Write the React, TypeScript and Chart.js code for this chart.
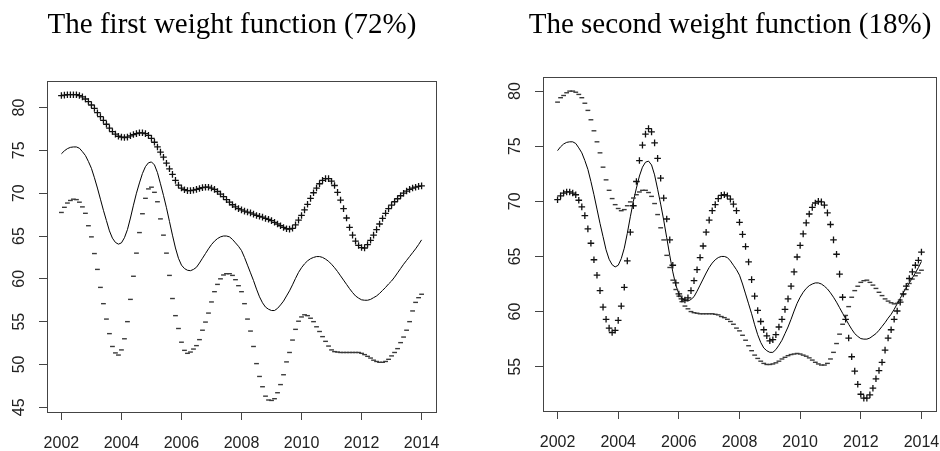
import { useEffect, useRef } from 'react';
import { Chart, registerables } from 'chart.js';

Chart.register(...registerables);

const years = [
  2002.0, 2002.1, 2002.2, 2002.3, 2002.4, 2002.5, 2002.6, 2002.7, 2002.8, 2002.9,
  2003.0, 2003.1, 2003.2, 2003.3, 2003.4, 2003.5, 2003.6, 2003.7, 2003.8, 2003.9,
  2004.0, 2004.1, 2004.2, 2004.3, 2004.4, 2004.5, 2004.6, 2004.7, 2004.8, 2004.9,
  2005.0, 2005.1, 2005.2, 2005.3, 2005.4, 2005.5, 2005.6, 2005.7, 2005.8, 2005.9,
  2006.0, 2006.1, 2006.2, 2006.3, 2006.4, 2006.5, 2006.6, 2006.7, 2006.8, 2006.9,
  2007.0, 2007.1, 2007.2, 2007.3, 2007.4, 2007.5, 2007.6, 2007.7, 2007.8, 2007.9,
  2008.0, 2008.1, 2008.2, 2008.3, 2008.4, 2008.5, 2008.6, 2008.7, 2008.8, 2008.9,
  2009.0, 2009.1, 2009.2, 2009.3, 2009.4, 2009.5, 2009.6, 2009.7, 2009.8, 2009.9,
  2010.0, 2010.1, 2010.2, 2010.3, 2010.4, 2010.5, 2010.6, 2010.7, 2010.8, 2010.9,
  2011.0, 2011.1, 2011.2, 2011.3, 2011.4, 2011.5, 2011.6, 2011.7, 2011.8, 2011.9,
  2012.0, 2012.1, 2012.2, 2012.3, 2012.4, 2012.5, 2012.6, 2012.7, 2012.8, 2012.9,
  2013.0, 2013.1, 2013.2, 2013.3, 2013.4, 2013.5, 2013.6, 2013.7, 2013.8, 2013.9,
  2014.0,
];

const meanCurve = [
  74.6, 74.95, 75.2, 75.35, 75.4, 75.4, 75.25, 74.85, 74.4, 73.7,
  72.9, 71.8, 70.6, 69.3, 68.0, 66.8, 65.6, 64.75, 64.25, 64.05,
  64.2, 64.8, 65.75, 67.1, 68.6, 70.0, 71.2, 72.3, 73.1, 73.55,
  73.65, 73.3, 72.4, 71.1, 69.75, 68.3, 66.7, 65.1, 63.6, 62.4,
  61.6, 61.2, 61.0, 60.95, 61.1, 61.35, 61.85, 62.4, 62.95, 63.5,
  64.0, 64.4, 64.7, 64.9, 65.0, 65.0, 64.9, 64.6, 64.2, 63.8,
  63.3, 62.5, 61.6, 60.7, 59.8, 58.8, 57.9, 57.2, 56.7, 56.45,
  56.3, 56.3, 56.55, 56.95, 57.4, 58.0, 58.6, 59.3, 60.05, 60.75,
  61.3, 61.75, 62.1, 62.35, 62.5, 62.6, 62.6, 62.5, 62.3, 62.05,
  61.7, 61.3, 60.85, 60.35, 59.85, 59.35, 58.85, 58.4, 58.0, 57.75,
  57.55, 57.5, 57.5, 57.6, 57.8, 58.0, 58.3, 58.65, 59.0, 59.4,
  59.75, 60.2, 60.7, 61.2, 61.7, 62.15, 62.6, 63.05, 63.5, 64.0,
  64.55,
];

const firstPlus = [
  81.4, 81.45, 81.5, 81.5, 81.5, 81.5, 81.4, 81.25, 81.0, 80.7,
  80.3, 79.9, 79.4, 78.95, 78.5, 78.05, 77.6, 77.2, 76.9, 76.65,
  76.55, 76.5, 76.55, 76.7, 76.85, 76.95, 77.05, 77.05, 76.95, 76.75,
  76.4, 75.95, 75.4, 74.8, 74.2, 73.5, 72.85, 72.2, 71.5, 70.95,
  70.6, 70.4, 70.3, 70.3, 70.35, 70.45, 70.55, 70.65, 70.7, 70.7,
  70.6, 70.45, 70.2, 69.9, 69.6, 69.25, 68.95, 68.65, 68.4, 68.2,
  68.05, 67.9, 67.8, 67.7, 67.55, 67.4, 67.3, 67.2, 67.05, 66.95,
  66.8, 66.6, 66.4, 66.2, 66.0, 65.85, 65.8, 65.9, 66.3, 66.85,
  67.4, 68.05, 68.7, 69.4, 70.05, 70.6, 71.1, 71.5, 71.7, 71.7,
  71.4, 70.9, 70.1, 69.2, 68.2, 67.1, 66.0, 65.1, 64.4, 63.9,
  63.65, 63.6, 64.0, 64.5, 65.1, 65.75, 66.4, 67.05, 67.65, 68.2,
  68.6, 69.0, 69.35, 69.7, 70.0, 70.25, 70.45, 70.6, 70.7, 70.8,
  70.85,
];

const firstMinus = [
  67.75, 68.35, 68.85, 69.15, 69.3, 69.25, 68.95, 68.4, 67.65, 66.2,
  64.9, 62.95, 61.1, 59.0, 57.1, 55.3, 53.6, 52.1, 51.35, 51.1,
  51.7, 53.0, 55.0, 57.6, 60.3, 63.0, 65.4, 67.6, 69.4, 70.5,
  70.7, 70.1, 69.0, 67.0, 65.1, 63.0, 60.4, 57.7, 55.7, 54.2,
  52.6, 51.65, 51.3, 51.45, 51.8, 52.2, 52.9, 54.0, 54.95, 56.0,
  57.3, 58.5, 59.35, 60.0, 60.45, 60.6, 60.6, 60.4, 59.9, 59.2,
  58.5, 57.1, 55.3, 53.9, 52.1, 50.1, 48.6, 47.4, 46.3, 45.85,
  45.8, 46.0, 46.7, 47.65, 48.8, 50.3, 51.4, 52.85, 54.1, 55.05,
  55.55, 55.8, 55.7, 55.4, 55.0, 54.4, 53.85, 53.25, 52.7, 52.15,
  51.7, 51.5, 51.45, 51.4, 51.4, 51.4, 51.4, 51.4, 51.4, 51.4,
  51.3, 51.15, 50.95, 50.75, 50.5, 50.35, 50.25, 50.25, 50.35, 50.6,
  51.0, 51.4, 51.85, 52.55, 53.2, 54.0, 55.0, 56.25, 57.25, 57.8,
  58.2,
];

const secondPlus = [
  70.15, 70.5, 70.75, 70.85, 70.85, 70.75, 70.6, 70.1, 69.5, 68.7,
  67.5, 66.2, 64.7, 63.3, 61.9, 60.4, 59.3, 58.5, 58.1, 58.3,
  59.2, 60.5, 62.2, 64.6, 67.2, 69.6, 71.8, 73.7, 75.1, 76.1,
  76.6, 76.3, 75.3, 73.9, 72.1, 70.3, 68.4, 66.5, 64.2, 62.6,
  61.6, 61.15, 61.05, 61.25, 61.9, 62.8, 63.8, 64.9, 65.95, 67.2,
  68.3, 69.15, 69.7, 70.25, 70.55, 70.6, 70.5, 70.2, 69.75, 69.15,
  68.1, 67.0, 65.9, 64.5, 62.9, 61.4, 60.1, 59.1, 58.35, 57.8,
  57.35, 57.45, 57.9, 58.6, 59.3, 60.2, 61.15, 62.3, 63.6, 64.95,
  66.0, 67.05, 68.05, 68.85, 69.45, 69.85, 70.0, 69.95, 69.65, 68.95,
  67.9, 66.5, 65.2, 63.4, 61.3, 59.3, 57.6, 55.9, 54.6, 53.4,
  52.5, 52.15, 52.15, 52.45, 53.05, 53.9, 54.65, 55.4, 56.5, 57.6,
  58.35, 59.3, 60.05, 60.85, 61.6, 62.3, 63.0, 63.6, 64.2, 64.65,
  65.4,
];

const secondMinus = [
  79.0, 79.4, 79.6, 79.85, 80.0, 80.0, 79.9, 79.7, 79.4, 78.9,
  78.25, 77.4, 76.4, 75.4, 74.4, 73.1, 71.95, 71.0, 70.25, 69.7,
  69.35, 69.15, 69.25, 69.6, 69.95, 70.3, 70.6, 70.85, 71.0, 71.0,
  70.8, 70.45, 69.8, 68.8, 67.6, 66.5, 65.1, 64.0, 62.85, 62.0,
  61.4, 60.9, 60.5, 60.25, 60.0, 59.9, 59.85, 59.8, 59.8, 59.8,
  59.8, 59.8, 59.75, 59.7, 59.55, 59.45, 59.3, 59.1, 58.85, 58.5,
  58.25, 57.85, 57.4, 56.9, 56.45, 56.05, 55.75, 55.5, 55.3, 55.2,
  55.2, 55.25, 55.35, 55.5, 55.7, 55.85, 56.0, 56.1, 56.15, 56.2,
  56.15, 56.05, 55.95, 55.8, 55.6, 55.4, 55.25, 55.15, 55.15, 55.3,
  55.7, 56.3, 57.1, 57.95, 58.85, 59.65, 60.45, 61.3, 61.9, 62.3,
  62.65, 62.8, 62.85, 62.65, 62.4, 62.1, 61.75, 61.45, 61.15, 60.95,
  60.8, 60.7, 60.75, 61.05, 61.55, 62.0, 62.55, 62.95, 63.25, 63.5,
  63.75,
];

const xTicks = [2002, 2004, 2006, 2008, 2010, 2012, 2014];
const firstYTicks = [45, 50, 55, 60, 65, 70, 75, 80];
const secondYTicks = [55, 60, 65, 70, 75, 80];

const framePlugin = {
  id: 'frame',
  afterDatasetsDraw(chart: any) {
    const { ctx, chartArea: a } = chart;
    ctx.save();
    ctx.strokeStyle = '#444';
    ctx.lineWidth = 1;
    ctx.strokeRect(
      Math.round(a.left) + 0.5,
      Math.round(a.top) + 0.5,
      Math.round(a.right - a.left),
      Math.round(a.bottom - a.top)
    );
    ctx.restore();
  },
};

type PanelProps = {
  title: string;
  plus: number[];
  minus: number[];
  yTicks: number[];
  yMin: number;
  yMax: number;
  padLeft: number;
  padRight: number;
  yAxisWidth: number;
  rightAxisWidth: number;
  xAxisHeight: number;
  titleBottom: number;
  left: number;
  width: number;
};

function Panel(p: PanelProps) {
  const ref = useRef<HTMLCanvasElement | null>(null);
  useEffect(() => {
    if (!ref.current) return;
    const tickFont = { family: 'Liberation Sans', size: 16 };
    const gridOpts = {
      display: true,
      drawOnChartArea: false,
      drawTicks: true,
      tickLength: 8,
      color: '#444',
      lineWidth: 1,
    };
    const chart = new Chart(ref.current, {
      type: 'line',
      data: {
        labels: years,
        datasets: [
          {
            data: p.plus,
            showLine: false,
            pointStyle: 'cross',
            pointRadius: 3.3,
            pointBorderWidth: 1.3,
            pointBorderColor: '#111',
            borderColor: '#111',
            backgroundColor: 'transparent',
            pointHoverRadius: 0,
          },
          {
            data: p.minus,
            showLine: false,
            pointStyle: 'line',
            pointRadius: 2.4,
            pointBorderWidth: 1.4,
            pointBorderColor: '#3a3a3a',
            borderColor: '#3a3a3a',
            backgroundColor: 'transparent',
            pointHoverRadius: 0,
          },
          {
            data: meanCurve,
            showLine: true,
            pointRadius: 0,
            borderWidth: 1,
            borderColor: '#000',
            tension: 0,
            fill: false,
          },
        ],
      } as any,
      options: {
        animation: false,
        responsive: false,
        devicePixelRatio: 1,
        layout: { padding: { left: p.padLeft, right: p.padRight, top: 0, bottom: 0 } },
        plugins: {
          legend: { display: false },
          tooltip: { enabled: false },
          title: {
            display: true,
            text: p.title,
            color: '#000',
            font: { family: 'Liberation Serif', size: 29, weight: 'normal', lineHeight: 1.2 },
            padding: { top: 8, bottom: p.titleBottom },
          },
        },
        scales: {
          x: {
            type: 'linear',
            min: 2001.52,
            max: 2014.48,
            afterBuildTicks: (s: any) => {
              s.ticks = xTicks.map((v) => ({ value: v }));
            },
            afterFit: (s: any) => {
              s.height = p.xAxisHeight;
            },
            ticks: {
              autoSkip: false,
              maxRotation: 0,
              minRotation: 0,
              padding: 13.5,
              color: '#222',
              font: tickFont,
              callback: (v: any) => String(v),
            },
            grid: gridOpts,
            border: { display: false },
          },
          y: {
            type: 'linear',
            position: 'left',
            min: p.yMin,
            max: p.yMax,
            afterBuildTicks: (s: any) => {
              s.ticks = p.yTicks.map((v) => ({ value: v }));
            },
            afterFit: (s: any) => {
              s.width = p.yAxisWidth;
            },
            ticks: {
              minRotation: 90,
              maxRotation: 90,
              crossAlign: 'center',
              padding: 11,
              color: '#222',
              font: tickFont,
              callback: (v: any) => String(v),
            },
            grid: gridOpts,
            border: { display: false },
          },
          yr: {
            type: 'linear',
            position: 'right',
            display: true,
            grid: { display: false },
            ticks: { display: false },
            border: { display: false },
            afterFit: (s: any) => {
              s.width = p.rightAxisWidth;
            },
          },
        },
      } as any,
      plugins: [framePlugin],
    });
    return () => chart.destroy();
  }, []);
  return (
    <canvas
      ref={ref}
      width={p.width}
      height={451}
      style={{ position: 'absolute', left: p.left, top: 0, width: p.width, height: 451 }}
    />
  );
}

export default function App() {
  return (
    <div
      style={{
        position: 'absolute',
        left: 0,
        top: 0,
        width: 940,
        height: 451,
        overflow: 'hidden',
        background: '#fff',
      }}
    >
      <Panel
        title="The first weight function (72%)"
        plus={firstPlus}
        minus={firstMinus}
        yTicks={firstYTicks}
        yMin={44.45}
        yMax={83.1}
        padLeft={0}
        padRight={6}
        yAxisWidth={47}
        rightAxisWidth={28}
        xAxisHeight={39}
        titleBottom={38.2}
        left={0}
        width={470}
      />
      <Panel
        title="The second weight function (18%)"
        plus={secondPlus}
        minus={secondMinus}
        yTicks={secondYTicks}
        yMin={50.98}
        yMax={81.28}
        padLeft={30}
        padRight={10}
        yAxisWidth={43}
        rightAxisWidth={24}
        xAxisHeight={40}
        titleBottom={34.2}
        left={470}
        width={500}
      />
    </div>
  );
}
